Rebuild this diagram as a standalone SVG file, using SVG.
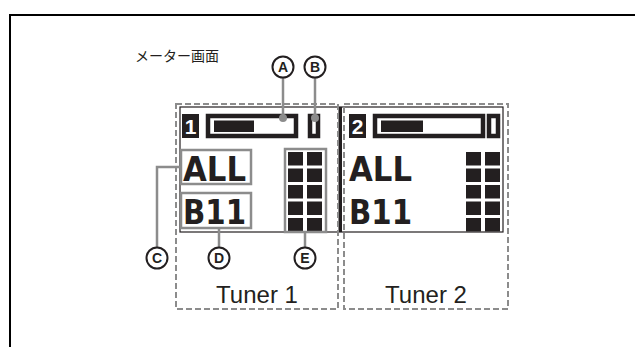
<svg xmlns="http://www.w3.org/2000/svg" width="635" height="347" viewBox="0 0 635 347">
<style>
.frame{fill:none;stroke:#000;stroke-width:2}
.dash{fill:none;stroke:#8c8c8c;stroke-width:2;stroke-dasharray:6 3}
.gbox{fill:none;stroke:#8c8c8c;stroke-width:2.5}
.lead{fill:none;stroke:#8c8c8c;stroke-width:2.5}
.dot{fill:#8c8c8c}
.lcd{fill:#231f20}
.lcdo{fill:none;stroke:#231f20;stroke-width:4.5}
.scr{fill:none;stroke:#231f20;stroke-width:1.2}
.big{font-family:"DejaVu Sans","Liberation Sans",sans-serif;font-weight:bold;font-size:33px;fill:#231f20}
.num{font-family:"Liberation Sans",sans-serif;font-weight:bold;font-size:21px;fill:#fff}
.circ{fill:#fff;stroke:#231f20;stroke-width:2}
.cl{font-family:"Liberation Sans",sans-serif;font-weight:bold;font-size:14px;fill:#231f20;text-anchor:middle}
.lab{font-family:"Liberation Sans",sans-serif;font-size:24px;fill:#231f20;text-anchor:middle}
.title{font-family:"Noto Sans CJK JP","Noto Sans CJK SC",sans-serif;font-size:14px;fill:#231f20}
</style>
<defs>
<g id="meter">
<rect x="0" y="0" width="15" height="13.5"/><rect x="19" y="0" width="15" height="13.5"/>
<rect x="0" y="16.5" width="15" height="13.5"/><rect x="19" y="16.5" width="15" height="13.5"/>
<rect x="0" y="33" width="15" height="13.5"/><rect x="19" y="33" width="15" height="13.5"/>
<rect x="0" y="49.5" width="15" height="13.5"/><rect x="19" y="49.5" width="15" height="13.5"/>
<rect x="0" y="66" width="15" height="13.5"/><rect x="19" y="66" width="15" height="13.5"/>
</g>
</defs>
<path class="frame" d="M10 347 V15 H635"/>
<text class="title" x="135" y="61">メーター画面</text>

<g id="screen">
<rect class="scr" x="180" y="107" width="323" height="125"/>
<rect class="lcd" x="338.5" y="107" width="3.5" height="125"/>
</g>

<g id="tuner1">
<rect class="dash" x="176" y="104" width="162" height="205"/>
<rect class="lcd" x="182" y="114" width="17" height="24"/>
<text class="num" x="190.5" y="133.5" text-anchor="middle">1</text>
<rect class="lcdo" x="208" y="116" width="88" height="20"/>
<rect class="lcd" x="214" y="120.5" width="40" height="11.5"/>
<rect class="lcdo" x="310" y="116" width="8" height="20"/>
<text class="big" x="183" y="181" textLength="63" lengthAdjust="spacingAndGlyphs">ALL</text>
<text class="big" x="183" y="224" textLength="63" lengthAdjust="spacingAndGlyphs">B11</text>
<g class="lcd"><use href="#meter" x="288" y="152"/></g>
<text class="lab" x="257" y="303">Tuner 1</text>
</g>

<g id="tuner2">
<rect class="dash" x="344" y="104" width="164" height="205"/>
<rect class="lcd" x="349" y="114" width="17" height="24"/>
<text class="num" x="357.5" y="133.5" text-anchor="middle">2</text>
<rect class="lcdo" x="375" y="116" width="108" height="20"/>
<rect class="lcd" x="381" y="120.5" width="42" height="11.5"/>
<rect class="lcdo" x="489" y="116" width="9" height="20"/>
<text class="big" x="349" y="181" textLength="63" lengthAdjust="spacingAndGlyphs">ALL</text>
<text class="big" x="349" y="224" textLength="63" lengthAdjust="spacingAndGlyphs">B11</text>
<g class="lcd"><use href="#meter" x="466" y="152"/></g>
<text class="lab" x="426" y="303">Tuner 2</text>
</g>

<g id="highlights">
<rect class="gbox" x="181" y="150" width="70" height="34"/>
<rect class="gbox" x="181" y="193" width="70" height="35"/>
<rect class="gbox" x="285" y="149" width="41" height="83"/>
</g>

<g id="connectors">
<path class="lead" d="M283 77 V118"/>
<circle class="dot" cx="283" cy="118" r="4"/>
<path class="lead" d="M315 77 V118"/>
<circle class="dot" cx="315" cy="118" r="4"/>
<path class="lead" d="M181 167 H157 V248"/>
<path class="lead" d="M219 228 V248"/>
<path class="lead" d="M305 232 V248"/>
</g>

<g id="callout-A"><circle class="circ" cx="283" cy="67" r="10.5"/><text class="cl" x="283" y="72">A</text></g>
<g id="callout-B"><circle class="circ" cx="315" cy="67" r="10.5"/><text class="cl" x="315" y="72">B</text></g>
<g id="callout-C"><circle class="circ" cx="157" cy="258" r="10.5"/><text class="cl" x="157" y="263">C</text></g>
<g id="callout-D"><circle class="circ" cx="219" cy="258" r="10.5"/><text class="cl" x="219" y="263">D</text></g>
<g id="callout-E"><circle class="circ" cx="305" cy="258" r="10.5"/><text class="cl" x="305" y="263">E</text></g>
</svg>
